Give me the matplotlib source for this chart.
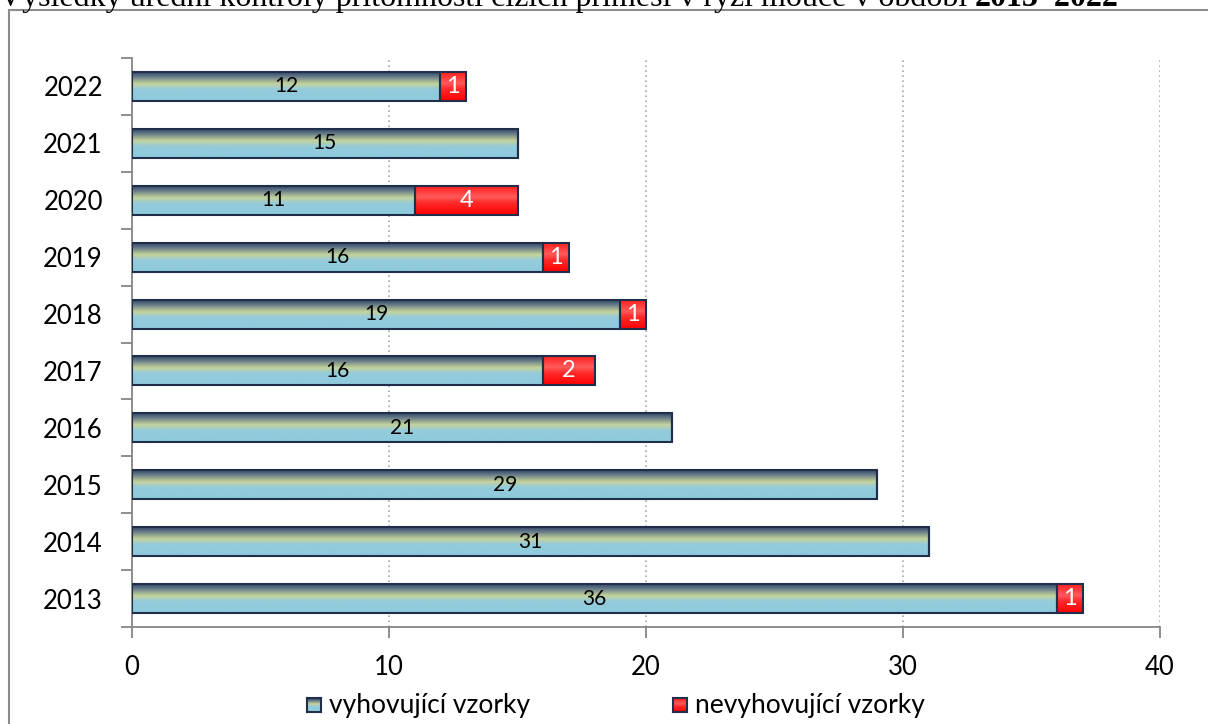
import numpy as np
import matplotlib
matplotlib.use("Agg")
import matplotlib.pyplot as plt
from matplotlib.colors import LinearSegmentedColormap
from matplotlib.patches import Rectangle

# data
years = ["2013", "2014", "2015", "2016", "2017", "2018", "2019", "2020", "2021", "2022"]
vyhovujici = [36, 31, 29, 21, 16, 19, 16, 11, 15, 12]
nevyhovujici = [1, 0, 0, 0, 2, 1, 1, 4, 0, 1]
x_ticks = [0, 10, 20, 30, 40]

title_text = "Výsledky úřední kontroly přítomnosti cizích příměsí v rýži mouce v období "
title_bold = "2013–2022"
legend_labels = ["vyhovující vzorky", "nevyhovující vzorky"]

FONT = "Lato"
EDGE = "#1f2f4a"
AXIS = "#868686"

green_cmap = LinearSegmentedColormap.from_list(
    "grn", [(0.0, "#2c3f5c"), (0.15, "#5a7085"), (0.42, "#c4d39b"),
            (0.62, "#93cbdd"), (1.0, "#8ecbdc")])
red_cmap = LinearSegmentedColormap.from_list(
    "red", [(0.0, "#ff1c1c"), (0.4, "#ff5a5a"), (0.6, "#ff2a2a"),
            (1.0, "#ff0000")])
GRAD = np.linspace(1, 0, 64).reshape(-1, 1)


def gradient_fill(ax, patches, cmap):
    for p in patches:
        x0, y0 = p.get_x(), p.get_y()
        w, h = p.get_width(), p.get_height()
        if w <= 0:
            continue
        im = ax.imshow(GRAD, extent=[x0, x0 + w, y0, y0 + h], origin="lower",
                       aspect="auto", cmap=cmap, vmin=0, vmax=1,
                       interpolation="bilinear", zorder=2)
        im.set_clip_path(p)


fig = plt.figure(figsize=(12.08, 7.24), dpi=100)
ax = fig.add_axes([132 / 1208, 1 - 627 / 724, (1160 - 132) / 1208, (627 - 58) / 724])

y = np.arange(len(years))
h = 0.51
b1 = ax.barh(y, vyhovujici, height=h, facecolor="none", edgecolor=EDGE,
             linewidth=1.5, zorder=3)
b2 = ax.barh(y, nevyhovujici, left=vyhovujici, height=h, facecolor="none",
             edgecolor=EDGE, linewidth=1.5, zorder=3)
gradient_fill(ax, b1, green_cmap)
gradient_fill(ax, b2, red_cmap)

for i, (g, r) in enumerate(zip(vyhovujici, nevyhovujici)):
    ax.text(g / 2, i, str(g), ha="center", va="center", fontsize=15,
            family=FONT, color="black", zorder=4)
    if r > 0:
        ax.text(g + r / 2, i, str(r), ha="center", va="center", fontsize=17,
                family=FONT, color="white", zorder=4)

ax.set_xlim(0, 40)
ax.set_ylim(-0.5, len(years) - 0.5)
ax.set_xticks(x_ticks)
ax.set_xticklabels([str(t) for t in x_ticks], family=FONT, fontsize=18.5)
ax.set_yticks(y)
ax.set_yticklabels(years, family=FONT, fontsize=18.5)
ax.set_yticks(np.arange(len(years) + 1) - 0.5, minor=True)
ax.tick_params(axis="y", which="major", length=0, pad=21)
ax.tick_params(axis="y", which="minor", length=8, color=AXIS, width=1.3)
ax.tick_params(axis="x", which="major", length=8, color=AXIS, width=1.3, pad=12)

for s in ("top", "right"):
    ax.spines[s].set_visible(False)
for s in ("left", "bottom"):
    ax.spines[s].set_color(AXIS)
    ax.spines[s].set_linewidth(1.3)
ax.xaxis.grid(True, linestyle=(0, (1, 2)), color="#a8a8a8", linewidth=1.2)
ax.set_axisbelow(True)

# outer chart frame
fig.patches.append(Rectangle((9 / 1208, -0.05), 1.2, 1 - 10 / 724 + 0.05,
                             transform=fig.transFigure, fill=False,
                             edgecolor="#8c8c8c", linewidth=1.5))

# title, mostly cut off by the top edge
t1 = fig.text(-0.001, 1 - 6 / 724, title_text, ha="left", va="baseline",
              family="Liberation Serif", fontsize=23)
fig.canvas.draw()
bb = t1.get_window_extent()
fig.text(bb.x1 / 1208, 1 - 6 / 724, title_bold, ha="left", va="baseline",
         family="Liberation Serif", fontsize=23, fontweight="bold")

# legend
legend_x = [307, 673]
legend_cmaps = [green_cmap, red_cmap]
for lx, lab, cm in zip(legend_x, legend_labels, legend_cmaps):
    sq = fig.add_axes([lx / 1208, 1 - 712 / 724, 14 / 1208, 14 / 724])
    sq.imshow(GRAD, origin="lower", aspect="auto", cmap=cm, vmin=0, vmax=1,
              extent=[0, 1, 0, 1])
    sq.set_xticks([])
    sq.set_yticks([])
    for s in sq.spines.values():
        s.set_color(EDGE)
        s.set_linewidth(1.5)
    fig.text((lx + 22) / 1208, 1 - 705 / 724, lab, ha="left", va="center",
             family=FONT, fontsize=19)

fig.savefig("out.png", dpi=100)
